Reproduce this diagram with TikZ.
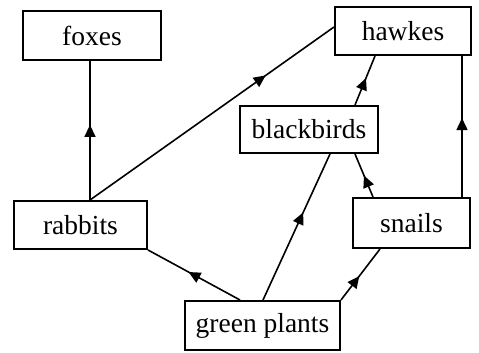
\documentclass[tikz,border=0pt]{standalone}
\usepackage{fontspec}
\setmainfont{Liberation Serif}
\usetikzlibrary{arrows.meta,decorations.markings}
\tikzset{
  box/.style={draw, line width=2pt, inner sep=0pt, font=\fontsize{27.5}{30}\selectfont},
  link/.style={line width=1.6pt, postaction={decorate},
    decoration={markings, mark=at position #1 with {\arrow{Triangle[length=12pt,width=11pt]}}}},
  link/.default=0.55
}
\begin{document}
\begin{tikzpicture}[x=1pt,y=1pt]
\useasboundingbox (0,0) rectangle (479,353);
\node[box, minimum width=138pt, minimum height=49pt] (foxes) at (92,317.5) {foxes};
\node[box, minimum width=136pt, minimum height=48pt] (hawkes) at (403,322) {hawkes};
\node[box, minimum width=138pt, minimum height=47pt] (blackbirds) at (309,223.5) {blackbirds};
\node[box, minimum width=133pt, minimum height=48pt] (rabbits) at (80.5,128) {rabbits};
\node[box, minimum width=117pt, minimum height=50pt] (snails) at (411.5,130) {snails};
\node[box, minimum width=155pt, minimum height=49pt] (green) at (262.5,27.5) {green plants};
\coordinate (rtop) at ([xshift=9.5pt]rabbits.north);
\draw[link=0.54] (rtop) -- (rtop |- foxes.south);
\draw[link=0.72] (rtop) -- ([yshift=4pt]hawkes.west);
\draw[link=0.55] ([xshift=46pt]blackbirds.north) -- ([xshift=-28pt]hawkes.south);
\draw[link=0.56] ([xshift=50.5pt]snails.north) -- ([xshift=50.5pt]snails.north |- hawkes.south);
\draw[link=0.5] ([xshift=-38.5pt]snails.north) -- ([xshift=46pt]blackbirds.south);
\draw[link=0.56] ([xshift=-22.5pt]green.north) -- (rabbits.south east);
\draw[link=0.6] ([xshift=0.5pt]green.north) -- ([xshift=21pt]blackbirds.south);
\draw[link=0.47] (green.north east) -- ([xshift=-31.5pt]snails.south);
\end{tikzpicture}
\end{document}
